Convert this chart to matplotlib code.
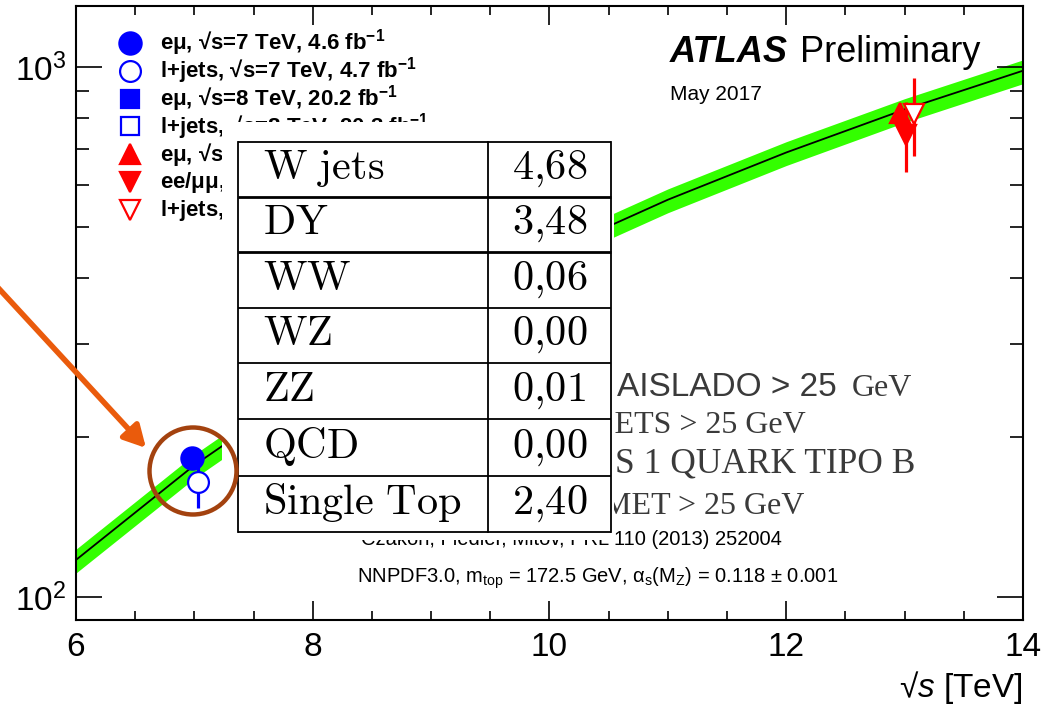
import math
import matplotlib
matplotlib.use("Agg")
import matplotlib.pyplot as plt
from matplotlib.ticker import MultipleLocator, FixedLocator, NullFormatter, FuncFormatter
from matplotlib.patches import Rectangle, Circle, FancyArrowPatch

plt.rcParams['font.family'] = ['Liberation Sans', 'DejaVu Sans']
plt.rcParams['mathtext.fontset'] = 'custom'
plt.rcParams['mathtext.rm'] = 'Liberation Sans'
plt.rcParams['mathtext.it'] = 'Liberation Sans:italic'
plt.rcParams['mathtext.bf'] = 'Liberation Sans:bold'

# NNLO+NNLL ttbar cross-section prediction (pb) with its uncertainty band
theory_sqrt_s = [6, 7, 8, 9, 10, 11, 12, 13, 14]
theory_xsec = [117.5, 177.3, 252.9, 342.0, 446.0, 562.0, 690.0, 831.8, 984.5]
theory_err_up = [5.6, 8.5, 12.1, 16.4, 21.4, 27.0, 33.1, 39.9, 47.3]
theory_err_dn = [6.5, 9.8, 13.9, 18.8, 24.5, 30.9, 38.0, 45.7, 54.1]

# ATLAS measurements
meas_labels = [
    "e\u03bc, √s=7 TeV, 4.6 fb$^{\\mathbf{-1}}$",
    "l+jets, √s=7 TeV, 4.7 fb$^{\\mathbf{-1}}$",
    "e\u03bc, √s=8 TeV, 20.2 fb$^{\\mathbf{-1}}$",
    "l+jets, √s=8 TeV, 20.3 fb$^{\\mathbf{-1}}$",
    "e\u03bc, √s=13 TeV, 3.2 fb$^{\\mathbf{-1}}$",
    "ee/\u03bc\u03bc, √s=13 TeV, 85 pb$^{\\mathbf{-1}}$",
    "l+jets, √s=13 TeV, 85 pb$^{\\mathbf{-1}}$",
]
meas_sqrt_s = [7, 7, 8, 8, 13, 13, 13]
meas_shift = [-0.02, 0.03, -0.02, 0.03, -0.035, 0.015, 0.08]
meas_xsec = [182.9, 165.0, 242.9, 248.3, 818.0, 746.0, 817.0]
meas_err = [7.1, 18.0, 8.8, 14.3, 36.0, 112.0, 136.0]

# background yields table
bkg_names = ["W jets", "DY", "WW", "WZ", "ZZ", "QCD", "Single Top"]
bkg_values = [4.68, 3.48, 0.06, 0.00, 0.01, 0.00, 2.40]

# selection cuts
cut_lines = ["JETS > 25 GeV", "AL MENOS 1 QUARK TIPO B", "MET > 25 GeV"]

BLUE = '#0000ff'
RED = '#ff0000'
markers = [
    dict(marker='o', ms=16, mfc=BLUE, mec=BLUE, color=BLUE),
    dict(marker='o', ms=15, mfc='white', mec=BLUE, color=BLUE),
    dict(marker='s', ms=13, mfc=BLUE, mec=BLUE, color=BLUE),
    dict(marker='s', ms=13, mfc='white', mec=BLUE, color=BLUE),
    dict(marker='^', ms=14.5, mfc=RED, mec=RED, color=RED),
    dict(marker='v', ms=14.5, mfc=RED, mec=RED, color=RED),
    dict(marker='v', ms=14.5, mfc='white', mec=RED, color=RED),
]

W, H = 1048, 715
fig = plt.figure(figsize=(W / 100, H / 100), dpi=100)
ax = fig.add_axes([76 / W, 1 - 620 / H, (1023 - 76) / W, (620 - 6) / H])

band_lo = [v - e for v, e in zip(theory_xsec, theory_err_dn)]
band_hi = [v + e for v, e in zip(theory_xsec, theory_err_up)]
ax.fill_between(theory_sqrt_s, band_lo, band_hi, color='#33ff00', lw=0, zorder=1)
ax.plot(theory_sqrt_s, theory_xsec, color='black', lw=1.3, zorder=2)

for i in range(len(meas_xsec)):
    st = markers[i]
    x = meas_sqrt_s[i] + meas_shift[i]
    ax.errorbar([x], [meas_xsec[i]], yerr=[meas_err[i]], fmt='none',
                ecolor=st['color'], elinewidth=2.3, capsize=0, zorder=3)
    ax.plot([x], [meas_xsec[i]], ls='none', marker=st['marker'], ms=st['ms'],
            mfc=st['mfc'], mec=st['mec'], mew=1.6, zorder=4)

ax.set_yscale('log')
ax.set_xlim(6, 14)
ax.set_ylim(90.5, 1304)
ax.xaxis.set_major_locator(MultipleLocator(2))
ax.xaxis.set_minor_locator(MultipleLocator(0.5))
ax.yaxis.set_major_locator(FixedLocator([100, 1000]))
ax.yaxis.set_major_formatter(FuncFormatter(
    lambda v, p: r"$\mathregular{10^{%d}}$" % round(math.log10(v))))
ax.yaxis.set_minor_formatter(NullFormatter())
ax.tick_params(which='both', direction='in', top=True, right=True, width=1.2,
               labelsize=24)
ax.tick_params(axis='x', which='major', length=13.7, pad=9)
ax.tick_params(axis='x', which='minor', length=6.5)
ax.tick_params(axis='y', which='major', length=18.7, pad=7)
ax.tick_params(axis='y', which='minor', length=9.4)
for sp in ax.spines.values():
    sp.set_linewidth(1.5)
ax.set_xlabel(r"√$\mathit{s}$ [TeV]", fontsize=24, loc='right', labelpad=4)

# pixel-based overlay for labels, table and highlights
ov = fig.add_axes([0, 0, 1, 1], zorder=5)
ov.set_xlim(0, W)
ov.set_ylim(H, 0)
ov.axis('off')

# legend
for i, lab in enumerate(meas_labels):
    st = markers[i]
    ly = 43 + 27.8 * i
    ov.plot([130], [ly], ls='none', marker=st['marker'], ms=st['ms'],
            mfc=st['mfc'], mec=st['mec'], mew=1.6, zorder=1)
    ov.text(160, ly + 6.8, lab, fontsize=16, fontweight='bold', va='baseline',
            zorder=1)

ov.text(670, 62, "ATLAS", fontsize=26, fontweight='bold', style='italic',
        va='baseline', zorder=1)
ov.text(800, 62, "Preliminary", fontsize=26, va='baseline', zorder=1)
ov.text(670, 100, "May 2017", fontsize=15, va='baseline', zorder=1)
ov.text(782, 545, "Czakon, Fiedler, Mitov, PRL 110 (2013) 252004", fontsize=14.5,
        ha='right', va='baseline', zorder=1)
ov.text(838, 583,
        r"NNPDF3.0, m$_{\mathrm{top}}$ = 172.5 GeV, α$_{\mathrm{s}}$(M$_{\mathrm{Z}}$) = 0.118 ± 0.001",
        fontsize=14.5, ha='right', va='baseline', zorder=1)

# selection cuts text
GRAY = '#3a3a3a'
ov.text(605, 396, "LEPTÓN", fontsize=24, color=GRAY, ha='right',
        va='baseline', zorder=1)
ov.text(617, 396, "AISLADO > 25", fontsize=24, color=GRAY, ha='left',
        va='baseline', zorder=1)
ov.text(912, 396, "GeV", fontsize=23, family='Liberation Serif', color=GRAY,
        ha='right', va='baseline', zorder=1)
for txt, xr, yb, fs in zip(cut_lines, [806, 915, 804], [433, 473, 514],
                           [23, 25.5, 23]):
    ov.text(xr, yb, txt, fontsize=fs, family='Liberation Serif', color=GRAY,
            ha='right', va='baseline', zorder=1)

# table
ov.add_patch(Rectangle((222, 122), 614 - 222, 540 - 122, facecolor='white',
                       edgecolor='none', zorder=2))
row_y = [142, 197, 252, 308, 363, 419, 476, 532]
tx0, tx1, tdiv = 238, 611, 488
for j, y in enumerate(row_y):
    ov.plot([tx0, tx1], [y, y], color='black', lw=2.0 if j in (1, 2) else 1.3,
            zorder=3, solid_capstyle='butt')
for x in (tx0, tdiv, tx1):
    ov.plot([x, x], [row_y[0], row_y[-1]], color='black', lw=1.3, zorder=3)
for j, (name, val) in enumerate(zip(bkg_names, bkg_values)):
    yb = row_y[j + 1] - 18
    ov.text(263, yb, r"$\mathrm{" + name.replace(' ', r'\ ') + "}$",
            math_fontfamily='cm', fontsize=30.5, va='baseline', zorder=3)
    sval = f"{val:.2f}".replace('.', '{,}')
    ov.text(512, yb, r"$\mathrm{" + sval + "}$", math_fontfamily='cm',
            fontsize=30.5, va='baseline', zorder=3)

# highlight of the 7 TeV points
ov.add_patch(Circle((193, 471), 43.5, fill=False, edgecolor='#a3420f', lw=3.2,
                    zorder=4))
ov.add_patch(FancyArrowPatch((-10, 279), (146, 448),
                             arrowstyle='-|>,head_length=0.65,head_width=0.35',
                             mutation_scale=20, lw=4, color='#ea5b0c',
                             shrinkA=0, shrinkB=0, zorder=4))

fig.savefig('out.png', dpi=100)
